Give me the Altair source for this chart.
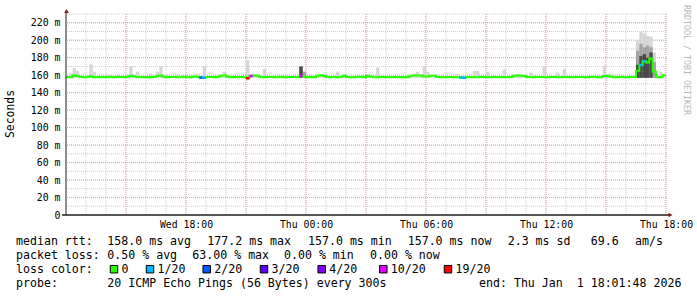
import altair as alt
import pandas as pd

# ---------------- data ----------------
STEP_H = 10 / 60  # 10-minute steps, hours since Wed 12:00

median_rtt = [
    158.0, 157.5, 159.5, 159.0, 157.8, 157.5, 158.0, 158.8, 157.6, 157.9,
    157.5, 158.0, 157.6, 158.2, 157.5, 157.8, 158.0, 157.5, 158.3, 159.3,
    158.8, 157.6, 157.8, 157.5, 158.0, 157.6, 157.9, 159.0, 159.6, 158.2,
    157.5, 157.8, 158.0, 157.6, 157.5, 158.1, 157.7, 157.5, 158.6, 157.8,
    157.2, 157.0, 157.8, 158.0, 157.6, 157.8, 159.2, 159.6, 158.4, 157.6,
    157.8, 157.5, 158.0, 157.6, 156.5, 159.0, 159.6, 159.2, 157.8, 157.5,
    157.8, 158.0, 157.5, 157.7, 158.1, 157.6, 157.5, 157.8, 158.0, 157.5,
    159.0, 158.2, 157.6, 157.8, 157.5, 159.3, 159.8, 159.1, 157.8, 157.5,
    157.8, 157.6, 158.0, 159.2, 158.0, 157.6, 157.5, 157.8, 158.1, 157.6,
    159.3, 158.4, 157.7, 157.5, 157.8, 158.0, 157.6, 157.5, 157.8, 157.6,
    157.9, 157.5, 158.0, 159.4, 159.7, 159.6, 159.5, 158.6, 158.4, 159.4,
    159.2, 158.0, 157.6, 157.5, 157.8, 158.0, 157.6, 157.5, 157.2, 157.0,
    157.8, 158.0, 157.6, 157.5, 158.2, 157.8, 157.5, 157.6, 158.0, 157.7,
    157.5, 157.8, 157.6, 158.0, 159.2, 159.5, 159.4, 159.0, 157.8, 157.6,
    157.5, 157.8, 158.0, 157.6, 157.5, 157.8, 158.0, 157.6, 157.5, 157.8,
    158.0, 157.6, 157.5, 157.8, 158.0, 157.7, 157.5, 157.8, 158.1, 157.6,
    157.5, 159.0, 159.4, 158.2, 157.6, 157.8, 158.0, 157.6, 157.5, 157.8,
    157.8, 165.0, 171.5, 176.0, 174.5, 179.0, 164.0, 157.6, 157.8, 159.8,
]

smoke_max = [
    159, 162, 168, 165, 159, 159, 159, 172.5, 164, 159,
    159, 159, 160.5, 159, 159, 160.5, 159, 159, 159, 170,
    159.5, 164, 159, 159, 159, 162, 159, 164, 170, 159.8,
    159, 159, 159, 161, 159, 159, 159, 159, 159.5, 161.5,
    159, 170, 159, 159, 159, 159, 160, 164, 160, 159,
    159, 159, 159, 159, 177, 160.5, 160.5, 160, 159, 167,
    159, 159, 159, 159, 159, 159, 159, 159, 159, 159,
    170, 164, 159, 159, 159, 160, 160.5, 160, 159, 159,
    159, 164, 159, 160, 159, 159, 159, 159, 159, 159,
    160, 159.5, 159, 168.6, 159, 159, 159, 159, 159, 159,
    159, 159, 159, 160, 160.5, 164, 160.5, 170.4, 164, 160,
    160, 159, 159, 159, 159, 159, 159, 161, 159, 159,
    159, 159, 165, 165, 159, 159, 164, 159, 159, 159,
    159, 166.5, 159, 159, 160, 160.5, 160, 160, 159, 163,
    159, 159, 159, 170.4, 159, 159, 159, 163, 159, 167,
    159, 159, 159, 159, 159, 159, 159, 159, 159, 159,
    159, 171, 161, 161, 159, 159, 159, 159, 159, 159,
    159, 200, 210, 208, 205, 204, 186, 159, 164, 160.5,
]

min_rtt = 157.0

# medium / dark smoke (only where visible)
mid_index = [70, 71, 171, 172, 173, 174, 175, 176]
mid_top = [170, 164, 188, 196, 192, 194, 192, 175]
dark_index = [70, 171, 172, 173, 174, 175]
dark_top = [170, 172, 182, 184, 180, 186]

# packet loss (x/20) where not zero
loss_index = [40, 41, 54, 55, 70, 118, 119, 172, 173]
loss_value = [2, 1, 19, 10, 10, 1, 1, 1, 1]

loss_levels = [0, 1, 2, 3, 4, 10, 19]
loss_labels = ["0", "1/20", "2/20", "3/20", "4/20", "10/20", "19/20"]
loss_colors = ["#26ff00", "#00b8ff", "#0059ff", "#5e00ff", "#7e00ff", "#dd00ff", "#ff0000"]

y_ticks = [0, 20, 40, 60, 80, 100, 120, 140, 160, 180, 200, 220]
x_tick_hours = [6, 12, 18, 24, 30]
x_tick_labels = ["Wed 18:00", "Thu 00:00", "Thu 06:00", "Thu 12:00", "Thu 18:00"]

minor_hours = list(range(1, 31))
major_hours = list(range(3, 31, 3))
minor_ms = list(range(10, 231, 10))
major_ms = list(range(20, 221, 20))

legend_line1 = [("median rtt:", 16), ("158.0 ms avg", 107.3), ("177.2 ms max", 207.3),
                ("157.0 ms min", 308), ("157.0 ms now", 407.7), ("2.3 ms sd", 507.7),
                ("69.6", 590.7), ("am/s", 635)]
legend_line2 = [("packet loss:", 16), ("0.50 % avg", 107.3), ("63.00 % max", 192.3),
                ("0.00 % min", 284), ("0.00 % now", 370)]
legend_line4 = [("probe:", 16), ("20 ICMP Echo Pings (56 Bytes) every 300s", 107.3),
                ("end: Thu Jan\u00a0\u00a01 18:01:48 2026", 479)]
square_left = [110, 146, 202.7, 260, 317.7, 379.3, 444]

# ---------------- layout ----------------
LEFT, TOP, W, H = 66, 14, 600, 201
MONO = "DejaVu Sans Mono"
LINE_Y = [244.5, 258.7, 273.0, 287.2]

n = len(median_rtt)
hours = [i * STEP_H for i in range(n)]
base = pd.DataFrame({"h": hours, "h2": [h + STEP_H for h in hours],
                     "med": median_rtt, "smax": smoke_max})
base["smin"] = min_rtt
line_df = pd.concat([base[["h", "med"]],
                     pd.DataFrame({"h": [n * STEP_H], "med": [median_rtt[-1]]})],
                    ignore_index=True)
mid_df = pd.DataFrame({"h": [hours[i] for i in mid_index],
                       "h2": [hours[i] + STEP_H for i in mid_index],
                       "top": mid_top})
mid_df["smin"] = min_rtt
dark_df = pd.DataFrame({"h": [hours[i] for i in dark_index],
                        "h2": [hours[i] + STEP_H for i in dark_index],
                        "top": dark_top})
dark_df["smin"] = min_rtt
loss_df = pd.DataFrame({"h": [hours[i] for i in loss_index],
                        "h2": [hours[i] + STEP_H for i in loss_index],
                        "med": [median_rtt[i] for i in loss_index],
                        "loss": loss_value})

xs = alt.Scale(domain=[0, 30], nice=False, zero=False)
ys = alt.Scale(domain=[0, 230], nice=False, zero=False)
loss_scale = alt.Scale(domain=loss_levels, range=loss_colors)

lab_arr = "[" + ",".join("'%s'" % s for s in x_tick_labels) + "]"
val_arr = "[" + ",".join(str(v) for v in x_tick_hours) + "]"

x_axis = alt.Axis(values=x_tick_hours, labelExpr=f"{lab_arr}[indexof({val_arr}, datum.value)]",
                  grid=False, domain=False, ticks=False, labelFont=MONO, labelFontSize=9.8,
                  labelColor="#000", labelPadding=4, labelFlush=False, labelOverlap=False,
                  title=None)
y_axis = alt.Axis(values=y_ticks, labelExpr="datum.value == 0 ? '0' : datum.value + ' m'",
                  grid=False, domain=False, ticks=False, labelFont=MONO, labelFontSize=9.9,
                  labelColor="#000", labelPadding=6, labelOverlap=False, title=None)


def X(field):
    return alt.X(field, scale=xs, axis=x_axis)


def Y(field):
    return alt.Y(field, scale=ys, axis=y_axis)


grid_dash = [1, 1]
g_minor_v = alt.Chart(pd.DataFrame({"h": minor_hours})).mark_rule(
    stroke="#cdcdcd", strokeDash=grid_dash, strokeWidth=1).encode(x=X("h:Q"))
g_minor_h = alt.Chart(pd.DataFrame({"v": minor_ms})).mark_rule(
    stroke="#cdcdcd", strokeDash=grid_dash, strokeWidth=1).encode(y=Y("v:Q"))
g_major_v = alt.Chart(pd.DataFrame({"h": major_hours})).mark_rule(
    stroke="#e3a6a6", strokeDash=grid_dash, strokeWidth=1).encode(x=X("h:Q"))
g_major_h = alt.Chart(pd.DataFrame({"v": major_ms})).mark_rule(
    stroke="#e3a6a6", strokeDash=grid_dash, strokeWidth=1).encode(y=Y("v:Q"))

smoke = alt.Chart(base).mark_rect(color="#d6d6d6").encode(
    x=X("h:Q"), x2="h2:Q", y=Y("smin:Q"), y2="smax:Q")
smoke_mid = alt.Chart(mid_df).mark_rect(color="#a4a4a4").encode(
    x=X("h:Q"), x2="h2:Q", y=Y("smin:Q"), y2="top:Q")
smoke_dark = alt.Chart(dark_df).mark_rect(color="#4a4a4a").encode(
    x=X("h:Q"), x2="h2:Q", y=Y("smin:Q"), y2="top:Q")

med_line = alt.Chart(line_df).mark_line(interpolate="step-after", color=loss_colors[0],
                                        strokeWidth=2).encode(x=X("h:Q"), y=Y("med:Q"))
loss_seg = alt.Chart(loss_df).mark_rule(strokeWidth=2.5).encode(
    x=X("h:Q"), x2="h2:Q", y=Y("med:Q"),
    color=alt.Color("loss:O", scale=loss_scale, legend=None))

one = pd.DataFrame({"k": [0]})
y_axis_line = alt.Chart(one).mark_rule(color="#1f1f1f", strokeWidth=1).encode(
    x=alt.value(0), y=alt.value(H), y2=alt.value(-2))
x_axis_line = alt.Chart(one).mark_rule(color="#1f1f1f", strokeWidth=1.5).encode(
    y=alt.value(H), x=alt.value(-4), x2=alt.value(603))
arrow_up = alt.Chart(one).mark_point(shape="triangle-up", filled=True, color="#801f1f",
                                     size=22, opacity=1).encode(
    x=alt.value(0.5), y=alt.value(-3))
arrow_right = alt.Chart(one).mark_point(shape="triangle-right", filled=True, color="#801f1f",
                                        size=22, opacity=1).encode(
    x=alt.value(604.5), y=alt.value(H))


def txt(s, px, py, size=11.6, color="#000", font=MONO, align="left",
        baseline="alphabetic", angle=0):
    return alt.Chart(one).mark_text(align=align, baseline=baseline, font=font,
                                    fontSize=size, color=color, angle=angle).encode(
        x=alt.value(px - LEFT), y=alt.value(py - TOP), text=alt.value(s))


texts = []
for s, px in legend_line1:
    texts.append(txt(s, px, LINE_Y[0]))
for s, px in legend_line2:
    texts.append(txt(s, px, LINE_Y[1]))
texts.append(txt("loss color:", 16, LINE_Y[2]))
for lab, col, left in zip(loss_labels, loss_colors, square_left):
    texts.append(alt.Chart(one).mark_point(shape="square", fill=col, stroke="#000",
                                           strokeWidth=1, size=56, opacity=1,
                                           fillOpacity=1).encode(
        x=alt.value(left + 4 - LEFT), y=alt.value(269.2 - TOP)))
    texts.append(txt(lab, left + 11.5, LINE_Y[2]))
for s, px in legend_line4:
    texts.append(txt(s, px, LINE_Y[3]))

texts.append(txt("Seconds", 11, 114, size=11.4, align="center", baseline="middle", angle=270))
texts.append(txt("RRDTOOL / TOBI OETIKER", 686, 60, size=8.3, color="#b8b8b8",
                 align="center", baseline="middle", angle=90))

chart = alt.layer(
    g_minor_v, g_minor_h, g_major_v, g_major_h,
    smoke, smoke_mid, smoke_dark, med_line, loss_seg,
    y_axis_line, x_axis_line, arrow_up, arrow_right,
    *texts
).properties(
    width=W, height=H,
    padding={"left": LEFT, "top": TOP, "right": 697 - LEFT - W, "bottom": 297 - TOP - H},
    autosize=alt.AutoSizeParams(type="none"),
    background="white",
).configure_view(stroke=None)

chart.save("out.html", embed_options={"renderer": "svg", "actions": False})
